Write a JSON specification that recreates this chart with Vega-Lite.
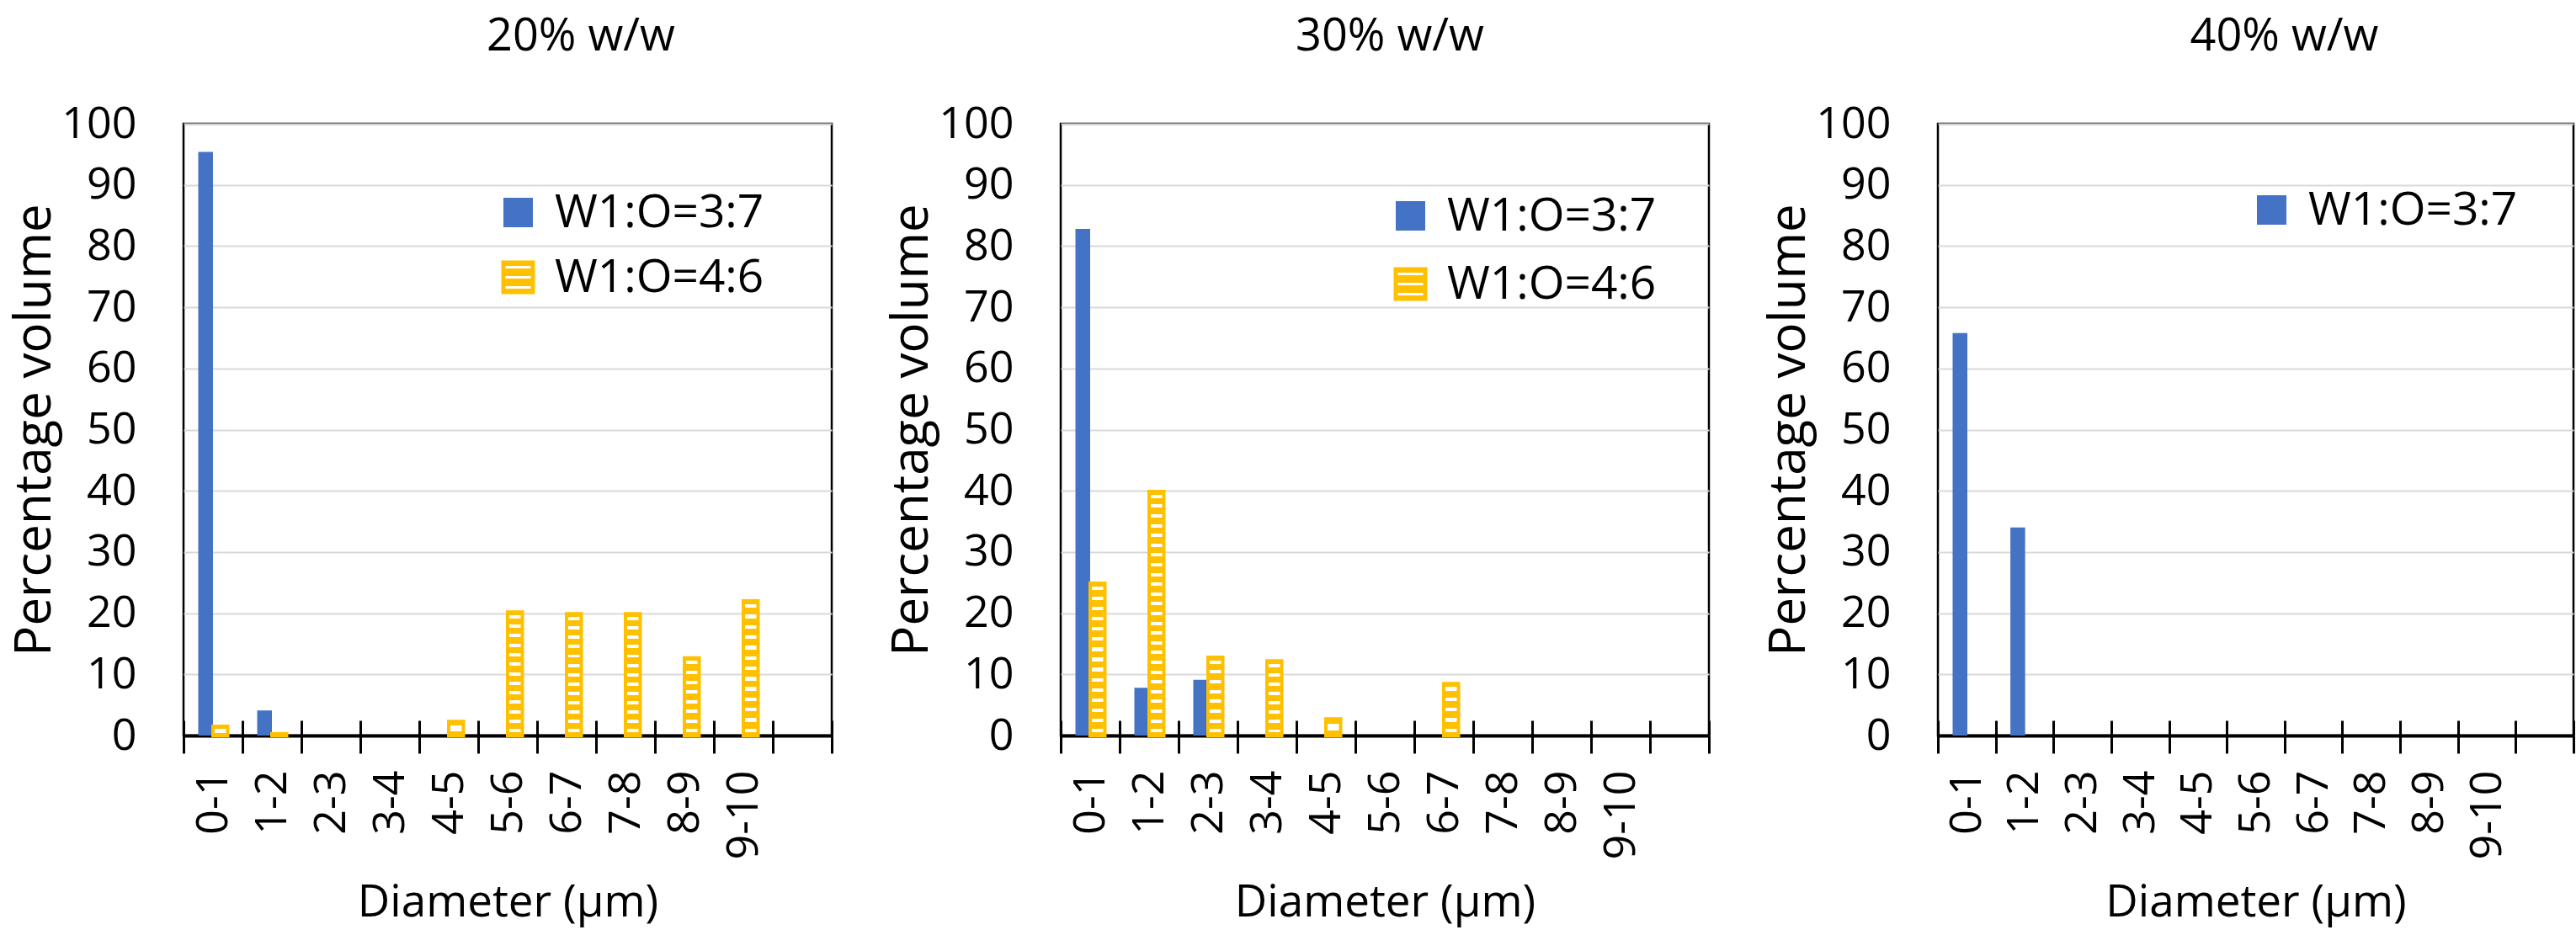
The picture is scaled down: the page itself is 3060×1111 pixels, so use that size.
{
  "$schema": "https://vega.github.io/schema/vega-lite/v6.json",
  "padding": {"left": 10, "top": 15, "right": 0, "bottom": 0},
  "spacing": 61,
  "datasets": {
    "p20": [
      {"series": "W1:O=3:7", "d": "0-1", "value": 95.4},
      {"series": "W1:O=3:7", "d": "1-2", "value": 4.1},
      {"series": "W1:O=4:6", "d": "0-1", "value": 1.5},
      {"series": "W1:O=4:6", "d": "1-2", "value": 0.3},
      {"series": "W1:O=4:6", "d": "4-5", "value": 2.3},
      {"series": "W1:O=4:6", "d": "5-6", "value": 20.2},
      {"series": "W1:O=4:6", "d": "6-7", "value": 19.9},
      {"series": "W1:O=4:6", "d": "7-8", "value": 19.9},
      {"series": "W1:O=4:6", "d": "8-9", "value": 12.7},
      {"series": "W1:O=4:6", "d": "9-10", "value": 22.0}
    ],
    "p30": [
      {"series": "W1:O=3:7", "d": "0-1", "value": 82.8},
      {"series": "W1:O=3:7", "d": "1-2", "value": 7.8},
      {"series": "W1:O=3:7", "d": "2-3", "value": 9.1},
      {"series": "W1:O=4:6", "d": "0-1", "value": 24.9},
      {"series": "W1:O=4:6", "d": "1-2", "value": 39.9},
      {"series": "W1:O=4:6", "d": "2-3", "value": 12.8},
      {"series": "W1:O=4:6", "d": "3-4", "value": 12.2},
      {"series": "W1:O=4:6", "d": "4-5", "value": 2.7},
      {"series": "W1:O=4:6", "d": "6-7", "value": 8.5}
    ],
    "p40": [
      {"series": "W1:O=3:7", "d": "0-1", "value": 65.8},
      {"series": "W1:O=3:7", "d": "1-2", "value": 34.0}
    ]
  },
  "resolve": {"scale": {"fill": "independent", "stroke": "independent"}, "legend": {"fill": "independent", "stroke": "independent"}},
  "hconcat": [
    {
      "width": 770, "height": 727,
      "title": {"text": "20% w/w", "dx": 87},
      "data": {"name": "p20"},
      "resolve": {"axis": {"x": "independent"}},
      "layer": [
        {
          "mark": {"type": "bar", "strokeWidth": 4},
          "encoding": {
            "x": {"field": "d", "type": "nominal", "title": "Diameter (µm)", "axis": {"orient": "bottom"},
              "scale": {"domain": ["0-1","1-2","2-3","3-4","4-5","5-6","6-7","7-8","8-9","9-10"," "], "paddingInner": 0, "paddingOuter": 0}},
            "xOffset": {"field": "series", "type": "nominal", "scale": {"domain": ["W1:O=3:7","W1:O=4:6"], "paddingInner": 0, "paddingOuter": 1}},
            "y": {"field": "value", "type": "quantitative", "title": "Percentage volume", "scale": {"domain": [0, 100], "nice": false}},
            "stroke": {"field": "series", "type": "nominal",
              "scale": {"domain": ["W1:O=4:6","W1:O=3:7"], "range": ["#FFC000","transparent"]},
              "legend": {"title": null, "values": ["W1:O=4:6"], "legendX": 370, "legendY": 155, "symbolType": "M-1,-1H1V1H-1Z M-1,-0.33H1 M-1,0.33H1", "symbolStrokeWidth": 5}},
            "fill": {
              "field": "series", "type": "nominal",
              "scale": {"domain": ["W1:O=3:7","W1:O=4:6"], "range": ["#4472C4","#FFC000"]},
              "legend": {"title": null, "values": ["W1:O=3:7"], "legendX": 370, "legendY": 78, "symbolStrokeWidth": 0},
              "condition": [
                {"test": "datum.value < 0", "value": {"gradient": "linear", "x1": 0, "y1": 0, "x2": 0, "y2": 1, "stops": [
                  {"offset": 0, "color": "#FFC000"},
                  {"offset": 0.12, "color": "#FFC000"},{"offset": 0.12, "color": "#FFFFFF"},{"offset": 0.21, "color": "#FFFFFF"},{"offset": 0.21, "color": "#FFC000"},
                  {"offset": 0.45, "color": "#FFC000"},{"offset": 0.45, "color": "#FFFFFF"},{"offset": 0.54, "color": "#FFFFFF"},{"offset": 0.54, "color": "#FFC000"},
                  {"offset": 0.79, "color": "#FFC000"},{"offset": 0.79, "color": "#FFFFFF"},{"offset": 0.88, "color": "#FFFFFF"},{"offset": 0.88, "color": "#FFC000"},
                  {"offset": 1, "color": "#FFC000"}]}},
                {"test": "datum.series === 'W1:O=4:6' && datum.value > 30", "value": {"gradient": "linear", "x1": 0, "y1": 0, "x2": 0, "y2": 1, "stops": [
                  {"offset": 0, "color": "#FFC000"},
                  {"offset": 0.013, "color": "#FFC000"},{"offset": 0.013, "color": "#FFFFFF"},{"offset": 0.027, "color": "#FFFFFF"},{"offset": 0.027, "color": "#FFC000"},
                  {"offset": 0.053, "color": "#FFC000"},{"offset": 0.053, "color": "#FFFFFF"},{"offset": 0.067, "color": "#FFFFFF"},{"offset": 0.067, "color": "#FFC000"},
                  {"offset": 0.093, "color": "#FFC000"},{"offset": 0.093, "color": "#FFFFFF"},{"offset": 0.107, "color": "#FFFFFF"},{"offset": 0.107, "color": "#FFC000"},
                  {"offset": 0.133, "color": "#FFC000"},{"offset": 0.133, "color": "#FFFFFF"},{"offset": 0.147, "color": "#FFFFFF"},{"offset": 0.147, "color": "#FFC000"},
                  {"offset": 0.173, "color": "#FFC000"},{"offset": 0.173, "color": "#FFFFFF"},{"offset": 0.187, "color": "#FFFFFF"},{"offset": 0.187, "color": "#FFC000"},
                  {"offset": 0.213, "color": "#FFC000"},{"offset": 0.213, "color": "#FFFFFF"},{"offset": 0.227, "color": "#FFFFFF"},{"offset": 0.227, "color": "#FFC000"},
                  {"offset": 0.253, "color": "#FFC000"},{"offset": 0.253, "color": "#FFFFFF"},{"offset": 0.267, "color": "#FFFFFF"},{"offset": 0.267, "color": "#FFC000"},
                  {"offset": 0.293, "color": "#FFC000"},{"offset": 0.293, "color": "#FFFFFF"},{"offset": 0.307, "color": "#FFFFFF"},{"offset": 0.307, "color": "#FFC000"},
                  {"offset": 0.333, "color": "#FFC000"},{"offset": 0.333, "color": "#FFFFFF"},{"offset": 0.347, "color": "#FFFFFF"},{"offset": 0.347, "color": "#FFC000"},
                  {"offset": 0.373, "color": "#FFC000"},{"offset": 0.373, "color": "#FFFFFF"},{"offset": 0.387, "color": "#FFFFFF"},{"offset": 0.387, "color": "#FFC000"},
                  {"offset": 0.413, "color": "#FFC000"},{"offset": 0.413, "color": "#FFFFFF"},{"offset": 0.427, "color": "#FFFFFF"},{"offset": 0.427, "color": "#FFC000"},
                  {"offset": 0.453, "color": "#FFC000"},{"offset": 0.453, "color": "#FFFFFF"},{"offset": 0.467, "color": "#FFFFFF"},{"offset": 0.467, "color": "#FFC000"},
                  {"offset": 0.493, "color": "#FFC000"},{"offset": 0.493, "color": "#FFFFFF"},{"offset": 0.507, "color": "#FFFFFF"},{"offset": 0.507, "color": "#FFC000"},
                  {"offset": 0.533, "color": "#FFC000"},{"offset": 0.533, "color": "#FFFFFF"},{"offset": 0.547, "color": "#FFFFFF"},{"offset": 0.547, "color": "#FFC000"},
                  {"offset": 0.573, "color": "#FFC000"},{"offset": 0.573, "color": "#FFFFFF"},{"offset": 0.587, "color": "#FFFFFF"},{"offset": 0.587, "color": "#FFC000"},
                  {"offset": 0.613, "color": "#FFC000"},{"offset": 0.613, "color": "#FFFFFF"},{"offset": 0.627, "color": "#FFFFFF"},{"offset": 0.627, "color": "#FFC000"},
                  {"offset": 0.653, "color": "#FFC000"},{"offset": 0.653, "color": "#FFFFFF"},{"offset": 0.667, "color": "#FFFFFF"},{"offset": 0.667, "color": "#FFC000"},
                  {"offset": 0.693, "color": "#FFC000"},{"offset": 0.693, "color": "#FFFFFF"},{"offset": 0.707, "color": "#FFFFFF"},{"offset": 0.707, "color": "#FFC000"},
                  {"offset": 0.733, "color": "#FFC000"},{"offset": 0.733, "color": "#FFFFFF"},{"offset": 0.747, "color": "#FFFFFF"},{"offset": 0.747, "color": "#FFC000"},
                  {"offset": 0.773, "color": "#FFC000"},{"offset": 0.773, "color": "#FFFFFF"},{"offset": 0.787, "color": "#FFFFFF"},{"offset": 0.787, "color": "#FFC000"},
                  {"offset": 0.813, "color": "#FFC000"},{"offset": 0.813, "color": "#FFFFFF"},{"offset": 0.827, "color": "#FFFFFF"},{"offset": 0.827, "color": "#FFC000"},
                  {"offset": 0.853, "color": "#FFC000"},{"offset": 0.853, "color": "#FFFFFF"},{"offset": 0.867, "color": "#FFFFFF"},{"offset": 0.867, "color": "#FFC000"},
                  {"offset": 0.893, "color": "#FFC000"},{"offset": 0.893, "color": "#FFFFFF"},{"offset": 0.907, "color": "#FFFFFF"},{"offset": 0.907, "color": "#FFC000"},
                  {"offset": 0.933, "color": "#FFC000"},{"offset": 0.933, "color": "#FFFFFF"},{"offset": 0.947, "color": "#FFFFFF"},{"offset": 0.947, "color": "#FFC000"},
                  {"offset": 0.973, "color": "#FFC000"},{"offset": 0.973, "color": "#FFFFFF"},{"offset": 0.987, "color": "#FFFFFF"},{"offset": 0.987, "color": "#FFC000"},
                  {"offset": 1, "color": "#FFC000"}]}},
                {"test": "datum.series === 'W1:O=4:6' && datum.value > 23.5", "value": {"gradient": "linear", "x1": 0, "y1": 0, "x2": 0, "y2": 1, "stops": [
                  {"offset": 0, "color": "#FFC000"},
                  {"offset": 0.022, "color": "#FFC000"},{"offset": 0.022, "color": "#FFFFFF"},{"offset": 0.045, "color": "#FFFFFF"},{"offset": 0.045, "color": "#FFC000"},
                  {"offset": 0.088, "color": "#FFC000"},{"offset": 0.088, "color": "#FFFFFF"},{"offset": 0.112, "color": "#FFFFFF"},{"offset": 0.112, "color": "#FFC000"},
                  {"offset": 0.155, "color": "#FFC000"},{"offset": 0.155, "color": "#FFFFFF"},{"offset": 0.178, "color": "#FFFFFF"},{"offset": 0.178, "color": "#FFC000"},
                  {"offset": 0.222, "color": "#FFC000"},{"offset": 0.222, "color": "#FFFFFF"},{"offset": 0.245, "color": "#FFFFFF"},{"offset": 0.245, "color": "#FFC000"},
                  {"offset": 0.288, "color": "#FFC000"},{"offset": 0.288, "color": "#FFFFFF"},{"offset": 0.312, "color": "#FFFFFF"},{"offset": 0.312, "color": "#FFC000"},
                  {"offset": 0.355, "color": "#FFC000"},{"offset": 0.355, "color": "#FFFFFF"},{"offset": 0.378, "color": "#FFFFFF"},{"offset": 0.378, "color": "#FFC000"},
                  {"offset": 0.422, "color": "#FFC000"},{"offset": 0.422, "color": "#FFFFFF"},{"offset": 0.445, "color": "#FFFFFF"},{"offset": 0.445, "color": "#FFC000"},
                  {"offset": 0.488, "color": "#FFC000"},{"offset": 0.488, "color": "#FFFFFF"},{"offset": 0.512, "color": "#FFFFFF"},{"offset": 0.512, "color": "#FFC000"},
                  {"offset": 0.555, "color": "#FFC000"},{"offset": 0.555, "color": "#FFFFFF"},{"offset": 0.578, "color": "#FFFFFF"},{"offset": 0.578, "color": "#FFC000"},
                  {"offset": 0.622, "color": "#FFC000"},{"offset": 0.622, "color": "#FFFFFF"},{"offset": 0.645, "color": "#FFFFFF"},{"offset": 0.645, "color": "#FFC000"},
                  {"offset": 0.688, "color": "#FFC000"},{"offset": 0.688, "color": "#FFFFFF"},{"offset": 0.712, "color": "#FFFFFF"},{"offset": 0.712, "color": "#FFC000"},
                  {"offset": 0.755, "color": "#FFC000"},{"offset": 0.755, "color": "#FFFFFF"},{"offset": 0.778, "color": "#FFFFFF"},{"offset": 0.778, "color": "#FFC000"},
                  {"offset": 0.822, "color": "#FFC000"},{"offset": 0.822, "color": "#FFFFFF"},{"offset": 0.845, "color": "#FFFFFF"},{"offset": 0.845, "color": "#FFC000"},
                  {"offset": 0.888, "color": "#FFC000"},{"offset": 0.888, "color": "#FFFFFF"},{"offset": 0.912, "color": "#FFFFFF"},{"offset": 0.912, "color": "#FFC000"},
                  {"offset": 0.955, "color": "#FFC000"},{"offset": 0.955, "color": "#FFFFFF"},{"offset": 0.978, "color": "#FFFFFF"},{"offset": 0.978, "color": "#FFC000"},
                  {"offset": 1, "color": "#FFC000"}]}},
                {"test": "datum.series === 'W1:O=4:6' && datum.value > 17", "value": {"gradient": "linear", "x1": 0, "y1": 0, "x2": 0, "y2": 1, "stops": [
                  {"offset": 0, "color": "#FFC000"},
                  {"offset": 0.025, "color": "#FFC000"},{"offset": 0.025, "color": "#FFFFFF"},{"offset": 0.052, "color": "#FFFFFF"},{"offset": 0.052, "color": "#FFC000"},
                  {"offset": 0.102, "color": "#FFC000"},{"offset": 0.102, "color": "#FFFFFF"},{"offset": 0.129, "color": "#FFFFFF"},{"offset": 0.129, "color": "#FFC000"},
                  {"offset": 0.179, "color": "#FFC000"},{"offset": 0.179, "color": "#FFFFFF"},{"offset": 0.206, "color": "#FFFFFF"},{"offset": 0.206, "color": "#FFC000"},
                  {"offset": 0.256, "color": "#FFC000"},{"offset": 0.256, "color": "#FFFFFF"},{"offset": 0.283, "color": "#FFFFFF"},{"offset": 0.283, "color": "#FFC000"},
                  {"offset": 0.333, "color": "#FFC000"},{"offset": 0.333, "color": "#FFFFFF"},{"offset": 0.360, "color": "#FFFFFF"},{"offset": 0.360, "color": "#FFC000"},
                  {"offset": 0.410, "color": "#FFC000"},{"offset": 0.410, "color": "#FFFFFF"},{"offset": 0.437, "color": "#FFFFFF"},{"offset": 0.437, "color": "#FFC000"},
                  {"offset": 0.487, "color": "#FFC000"},{"offset": 0.487, "color": "#FFFFFF"},{"offset": 0.514, "color": "#FFFFFF"},{"offset": 0.514, "color": "#FFC000"},
                  {"offset": 0.564, "color": "#FFC000"},{"offset": 0.564, "color": "#FFFFFF"},{"offset": 0.591, "color": "#FFFFFF"},{"offset": 0.591, "color": "#FFC000"},
                  {"offset": 0.640, "color": "#FFC000"},{"offset": 0.640, "color": "#FFFFFF"},{"offset": 0.667, "color": "#FFFFFF"},{"offset": 0.667, "color": "#FFC000"},
                  {"offset": 0.717, "color": "#FFC000"},{"offset": 0.717, "color": "#FFFFFF"},{"offset": 0.744, "color": "#FFFFFF"},{"offset": 0.744, "color": "#FFC000"},
                  {"offset": 0.794, "color": "#FFC000"},{"offset": 0.794, "color": "#FFFFFF"},{"offset": 0.821, "color": "#FFFFFF"},{"offset": 0.821, "color": "#FFC000"},
                  {"offset": 0.871, "color": "#FFC000"},{"offset": 0.871, "color": "#FFFFFF"},{"offset": 0.898, "color": "#FFFFFF"},{"offset": 0.898, "color": "#FFC000"},
                  {"offset": 0.948, "color": "#FFC000"},{"offset": 0.948, "color": "#FFFFFF"},{"offset": 0.975, "color": "#FFFFFF"},{"offset": 0.975, "color": "#FFC000"},
                  {"offset": 1, "color": "#FFC000"}]}},
                {"test": "datum.series === 'W1:O=4:6' && datum.value > 10", "value": {"gradient": "linear", "x1": 0, "y1": 0, "x2": 0, "y2": 1, "stops": [
                  {"offset": 0, "color": "#FFC000"},
                  {"offset": 0.041, "color": "#FFC000"},{"offset": 0.041, "color": "#FFFFFF"},{"offset": 0.084, "color": "#FFFFFF"},{"offset": 0.084, "color": "#FFC000"},
                  {"offset": 0.166, "color": "#FFC000"},{"offset": 0.166, "color": "#FFFFFF"},{"offset": 0.209, "color": "#FFFFFF"},{"offset": 0.209, "color": "#FFC000"},
                  {"offset": 0.291, "color": "#FFC000"},{"offset": 0.291, "color": "#FFFFFF"},{"offset": 0.334, "color": "#FFFFFF"},{"offset": 0.334, "color": "#FFC000"},
                  {"offset": 0.416, "color": "#FFC000"},{"offset": 0.416, "color": "#FFFFFF"},{"offset": 0.459, "color": "#FFFFFF"},{"offset": 0.459, "color": "#FFC000"},
                  {"offset": 0.541, "color": "#FFC000"},{"offset": 0.541, "color": "#FFFFFF"},{"offset": 0.584, "color": "#FFFFFF"},{"offset": 0.584, "color": "#FFC000"},
                  {"offset": 0.666, "color": "#FFC000"},{"offset": 0.666, "color": "#FFFFFF"},{"offset": 0.709, "color": "#FFFFFF"},{"offset": 0.709, "color": "#FFC000"},
                  {"offset": 0.791, "color": "#FFC000"},{"offset": 0.791, "color": "#FFFFFF"},{"offset": 0.834, "color": "#FFFFFF"},{"offset": 0.834, "color": "#FFC000"},
                  {"offset": 0.916, "color": "#FFC000"},{"offset": 0.916, "color": "#FFFFFF"},{"offset": 0.959, "color": "#FFFFFF"},{"offset": 0.959, "color": "#FFC000"},
                  {"offset": 1, "color": "#FFC000"}]}},
                {"test": "datum.series === 'W1:O=4:6' && datum.value > 5", "value": {"gradient": "linear", "x1": 0, "y1": 0, "x2": 0, "y2": 1, "stops": [
                  {"offset": 0, "color": "#FFC000"},
                  {"offset": 0.065, "color": "#FFC000"},{"offset": 0.065, "color": "#FFFFFF"},{"offset": 0.135, "color": "#FFFFFF"},{"offset": 0.135, "color": "#FFC000"},
                  {"offset": 0.265, "color": "#FFC000"},{"offset": 0.265, "color": "#FFFFFF"},{"offset": 0.335, "color": "#FFFFFF"},{"offset": 0.335, "color": "#FFC000"},
                  {"offset": 0.465, "color": "#FFC000"},{"offset": 0.465, "color": "#FFFFFF"},{"offset": 0.535, "color": "#FFFFFF"},{"offset": 0.535, "color": "#FFC000"},
                  {"offset": 0.665, "color": "#FFC000"},{"offset": 0.665, "color": "#FFFFFF"},{"offset": 0.735, "color": "#FFFFFF"},{"offset": 0.735, "color": "#FFC000"},
                  {"offset": 0.865, "color": "#FFC000"},{"offset": 0.865, "color": "#FFFFFF"},{"offset": 0.935, "color": "#FFFFFF"},{"offset": 0.935, "color": "#FFC000"},
                  {"offset": 1, "color": "#FFC000"}]}},
                {"test": "datum.series === 'W1:O=4:6' && datum.value > 1", "value": {"gradient": "linear", "x1": 0, "y1": 0, "x2": 0, "y2": 1, "stops": [
                  {"offset": 0, "color": "#FFC000"},
                  {"offset": 0.3, "color": "#FFC000"},{"offset": 0.3, "color": "#FFFFFF"},{"offset": 0.7, "color": "#FFFFFF"},{"offset": 0.7, "color": "#FFC000"},
                  {"offset": 1, "color": "#FFC000"}]}}
              ]
            }
          }
        },
        {
          "mark": {"type": "rule", "opacity": 0},
          "encoding": {
            "x": {"field": "d", "type": "nominal",
              "scale": {"domain": ["0-1","1-2","2-3","3-4","4-5","5-6","6-7","7-8","8-9","9-10"," "], "paddingInner": 0, "paddingOuter": 0},
              "axis": {"orient": "bottom", "tickSize": -18, "labels": false, "domain": false, "title": null}}
          }
        }
      ]
    },
    {
      "width": 770, "height": 727,
      "title": {"text": "30% w/w", "dx": 6},
      "data": {"name": "p30"},
      "resolve": {"axis": {"x": "independent"}},
      "layer": [
        {
          "mark": {"type": "bar", "strokeWidth": 4},
          "encoding": {
            "x": {"field": "d", "type": "nominal", "title": "Diameter (µm)", "axis": {"orient": "bottom"},
              "scale": {"domain": ["0-1","1-2","2-3","3-4","4-5","5-6","6-7","7-8","8-9","9-10"," "], "paddingInner": 0, "paddingOuter": 0}},
            "xOffset": {"field": "series", "type": "nominal", "scale": {"domain": ["W1:O=3:7","W1:O=4:6"], "paddingInner": 0, "paddingOuter": 1}},
            "y": {"field": "value", "type": "quantitative", "title": "Percentage volume", "scale": {"domain": [0, 100], "nice": false}},
            "stroke": {"field": "series", "type": "nominal",
              "scale": {"domain": ["W1:O=4:6","W1:O=3:7"], "range": ["#FFC000","transparent"]},
              "legend": {"title": null, "values": ["W1:O=4:6"], "legendX": 388, "legendY": 163, "symbolType": "M-1,-1H1V1H-1Z M-1,-0.33H1 M-1,0.33H1", "symbolStrokeWidth": 5}},
            "fill": {
              "field": "series", "type": "nominal",
              "scale": {"domain": ["W1:O=3:7","W1:O=4:6"], "range": ["#4472C4","#FFC000"]},
              "legend": {"title": null, "values": ["W1:O=3:7"], "legendX": 388, "legendY": 82, "symbolStrokeWidth": 0},
              "condition": [
                {"test": "datum.value < 0", "value": {"gradient": "linear", "x1": 0, "y1": 0, "x2": 0, "y2": 1, "stops": [
                  {"offset": 0, "color": "#FFC000"},
                  {"offset": 0.12, "color": "#FFC000"},{"offset": 0.12, "color": "#FFFFFF"},{"offset": 0.21, "color": "#FFFFFF"},{"offset": 0.21, "color": "#FFC000"},
                  {"offset": 0.45, "color": "#FFC000"},{"offset": 0.45, "color": "#FFFFFF"},{"offset": 0.54, "color": "#FFFFFF"},{"offset": 0.54, "color": "#FFC000"},
                  {"offset": 0.79, "color": "#FFC000"},{"offset": 0.79, "color": "#FFFFFF"},{"offset": 0.88, "color": "#FFFFFF"},{"offset": 0.88, "color": "#FFC000"},
                  {"offset": 1, "color": "#FFC000"}]}},
                {"test": "datum.series === 'W1:O=4:6' && datum.value > 30", "value": {"gradient": "linear", "x1": 0, "y1": 0, "x2": 0, "y2": 1, "stops": [
                  {"offset": 0, "color": "#FFC000"},
                  {"offset": 0.013, "color": "#FFC000"},{"offset": 0.013, "color": "#FFFFFF"},{"offset": 0.027, "color": "#FFFFFF"},{"offset": 0.027, "color": "#FFC000"},
                  {"offset": 0.053, "color": "#FFC000"},{"offset": 0.053, "color": "#FFFFFF"},{"offset": 0.067, "color": "#FFFFFF"},{"offset": 0.067, "color": "#FFC000"},
                  {"offset": 0.093, "color": "#FFC000"},{"offset": 0.093, "color": "#FFFFFF"},{"offset": 0.107, "color": "#FFFFFF"},{"offset": 0.107, "color": "#FFC000"},
                  {"offset": 0.133, "color": "#FFC000"},{"offset": 0.133, "color": "#FFFFFF"},{"offset": 0.147, "color": "#FFFFFF"},{"offset": 0.147, "color": "#FFC000"},
                  {"offset": 0.173, "color": "#FFC000"},{"offset": 0.173, "color": "#FFFFFF"},{"offset": 0.187, "color": "#FFFFFF"},{"offset": 0.187, "color": "#FFC000"},
                  {"offset": 0.213, "color": "#FFC000"},{"offset": 0.213, "color": "#FFFFFF"},{"offset": 0.227, "color": "#FFFFFF"},{"offset": 0.227, "color": "#FFC000"},
                  {"offset": 0.253, "color": "#FFC000"},{"offset": 0.253, "color": "#FFFFFF"},{"offset": 0.267, "color": "#FFFFFF"},{"offset": 0.267, "color": "#FFC000"},
                  {"offset": 0.293, "color": "#FFC000"},{"offset": 0.293, "color": "#FFFFFF"},{"offset": 0.307, "color": "#FFFFFF"},{"offset": 0.307, "color": "#FFC000"},
                  {"offset": 0.333, "color": "#FFC000"},{"offset": 0.333, "color": "#FFFFFF"},{"offset": 0.347, "color": "#FFFFFF"},{"offset": 0.347, "color": "#FFC000"},
                  {"offset": 0.373, "color": "#FFC000"},{"offset": 0.373, "color": "#FFFFFF"},{"offset": 0.387, "color": "#FFFFFF"},{"offset": 0.387, "color": "#FFC000"},
                  {"offset": 0.413, "color": "#FFC000"},{"offset": 0.413, "color": "#FFFFFF"},{"offset": 0.427, "color": "#FFFFFF"},{"offset": 0.427, "color": "#FFC000"},
                  {"offset": 0.453, "color": "#FFC000"},{"offset": 0.453, "color": "#FFFFFF"},{"offset": 0.467, "color": "#FFFFFF"},{"offset": 0.467, "color": "#FFC000"},
                  {"offset": 0.493, "color": "#FFC000"},{"offset": 0.493, "color": "#FFFFFF"},{"offset": 0.507, "color": "#FFFFFF"},{"offset": 0.507, "color": "#FFC000"},
                  {"offset": 0.533, "color": "#FFC000"},{"offset": 0.533, "color": "#FFFFFF"},{"offset": 0.547, "color": "#FFFFFF"},{"offset": 0.547, "color": "#FFC000"},
                  {"offset": 0.573, "color": "#FFC000"},{"offset": 0.573, "color": "#FFFFFF"},{"offset": 0.587, "color": "#FFFFFF"},{"offset": 0.587, "color": "#FFC000"},
                  {"offset": 0.613, "color": "#FFC000"},{"offset": 0.613, "color": "#FFFFFF"},{"offset": 0.627, "color": "#FFFFFF"},{"offset": 0.627, "color": "#FFC000"},
                  {"offset": 0.653, "color": "#FFC000"},{"offset": 0.653, "color": "#FFFFFF"},{"offset": 0.667, "color": "#FFFFFF"},{"offset": 0.667, "color": "#FFC000"},
                  {"offset": 0.693, "color": "#FFC000"},{"offset": 0.693, "color": "#FFFFFF"},{"offset": 0.707, "color": "#FFFFFF"},{"offset": 0.707, "color": "#FFC000"},
                  {"offset": 0.733, "color": "#FFC000"},{"offset": 0.733, "color": "#FFFFFF"},{"offset": 0.747, "color": "#FFFFFF"},{"offset": 0.747, "color": "#FFC000"},
                  {"offset": 0.773, "color": "#FFC000"},{"offset": 0.773, "color": "#FFFFFF"},{"offset": 0.787, "color": "#FFFFFF"},{"offset": 0.787, "color": "#FFC000"},
                  {"offset": 0.813, "color": "#FFC000"},{"offset": 0.813, "color": "#FFFFFF"},{"offset": 0.827, "color": "#FFFFFF"},{"offset": 0.827, "color": "#FFC000"},
                  {"offset": 0.853, "color": "#FFC000"},{"offset": 0.853, "color": "#FFFFFF"},{"offset": 0.867, "color": "#FFFFFF"},{"offset": 0.867, "color": "#FFC000"},
                  {"offset": 0.893, "color": "#FFC000"},{"offset": 0.893, "color": "#FFFFFF"},{"offset": 0.907, "color": "#FFFFFF"},{"offset": 0.907, "color": "#FFC000"},
                  {"offset": 0.933, "color": "#FFC000"},{"offset": 0.933, "color": "#FFFFFF"},{"offset": 0.947, "color": "#FFFFFF"},{"offset": 0.947, "color": "#FFC000"},
                  {"offset": 0.973, "color": "#FFC000"},{"offset": 0.973, "color": "#FFFFFF"},{"offset": 0.987, "color": "#FFFFFF"},{"offset": 0.987, "color": "#FFC000"},
                  {"offset": 1, "color": "#FFC000"}]}},
                {"test": "datum.series === 'W1:O=4:6' && datum.value > 23.5", "value": {"gradient": "linear", "x1": 0, "y1": 0, "x2": 0, "y2": 1, "stops": [
                  {"offset": 0, "color": "#FFC000"},
                  {"offset": 0.022, "color": "#FFC000"},{"offset": 0.022, "color": "#FFFFFF"},{"offset": 0.045, "color": "#FFFFFF"},{"offset": 0.045, "color": "#FFC000"},
                  {"offset": 0.088, "color": "#FFC000"},{"offset": 0.088, "color": "#FFFFFF"},{"offset": 0.112, "color": "#FFFFFF"},{"offset": 0.112, "color": "#FFC000"},
                  {"offset": 0.155, "color": "#FFC000"},{"offset": 0.155, "color": "#FFFFFF"},{"offset": 0.178, "color": "#FFFFFF"},{"offset": 0.178, "color": "#FFC000"},
                  {"offset": 0.222, "color": "#FFC000"},{"offset": 0.222, "color": "#FFFFFF"},{"offset": 0.245, "color": "#FFFFFF"},{"offset": 0.245, "color": "#FFC000"},
                  {"offset": 0.288, "color": "#FFC000"},{"offset": 0.288, "color": "#FFFFFF"},{"offset": 0.312, "color": "#FFFFFF"},{"offset": 0.312, "color": "#FFC000"},
                  {"offset": 0.355, "color": "#FFC000"},{"offset": 0.355, "color": "#FFFFFF"},{"offset": 0.378, "color": "#FFFFFF"},{"offset": 0.378, "color": "#FFC000"},
                  {"offset": 0.422, "color": "#FFC000"},{"offset": 0.422, "color": "#FFFFFF"},{"offset": 0.445, "color": "#FFFFFF"},{"offset": 0.445, "color": "#FFC000"},
                  {"offset": 0.488, "color": "#FFC000"},{"offset": 0.488, "color": "#FFFFFF"},{"offset": 0.512, "color": "#FFFFFF"},{"offset": 0.512, "color": "#FFC000"},
                  {"offset": 0.555, "color": "#FFC000"},{"offset": 0.555, "color": "#FFFFFF"},{"offset": 0.578, "color": "#FFFFFF"},{"offset": 0.578, "color": "#FFC000"},
                  {"offset": 0.622, "color": "#FFC000"},{"offset": 0.622, "color": "#FFFFFF"},{"offset": 0.645, "color": "#FFFFFF"},{"offset": 0.645, "color": "#FFC000"},
                  {"offset": 0.688, "color": "#FFC000"},{"offset": 0.688, "color": "#FFFFFF"},{"offset": 0.712, "color": "#FFFFFF"},{"offset": 0.712, "color": "#FFC000"},
                  {"offset": 0.755, "color": "#FFC000"},{"offset": 0.755, "color": "#FFFFFF"},{"offset": 0.778, "color": "#FFFFFF"},{"offset": 0.778, "color": "#FFC000"},
                  {"offset": 0.822, "color": "#FFC000"},{"offset": 0.822, "color": "#FFFFFF"},{"offset": 0.845, "color": "#FFFFFF"},{"offset": 0.845, "color": "#FFC000"},
                  {"offset": 0.888, "color": "#FFC000"},{"offset": 0.888, "color": "#FFFFFF"},{"offset": 0.912, "color": "#FFFFFF"},{"offset": 0.912, "color": "#FFC000"},
                  {"offset": 0.955, "color": "#FFC000"},{"offset": 0.955, "color": "#FFFFFF"},{"offset": 0.978, "color": "#FFFFFF"},{"offset": 0.978, "color": "#FFC000"},
                  {"offset": 1, "color": "#FFC000"}]}},
                {"test": "datum.series === 'W1:O=4:6' && datum.value > 17", "value": {"gradient": "linear", "x1": 0, "y1": 0, "x2": 0, "y2": 1, "stops": [
                  {"offset": 0, "color": "#FFC000"},
                  {"offset": 0.025, "color": "#FFC000"},{"offset": 0.025, "color": "#FFFFFF"},{"offset": 0.052, "color": "#FFFFFF"},{"offset": 0.052, "color": "#FFC000"},
                  {"offset": 0.102, "color": "#FFC000"},{"offset": 0.102, "color": "#FFFFFF"},{"offset": 0.129, "color": "#FFFFFF"},{"offset": 0.129, "color": "#FFC000"},
                  {"offset": 0.179, "color": "#FFC000"},{"offset": 0.179, "color": "#FFFFFF"},{"offset": 0.206, "color": "#FFFFFF"},{"offset": 0.206, "color": "#FFC000"},
                  {"offset": 0.256, "color": "#FFC000"},{"offset": 0.256, "color": "#FFFFFF"},{"offset": 0.283, "color": "#FFFFFF"},{"offset": 0.283, "color": "#FFC000"},
                  {"offset": 0.333, "color": "#FFC000"},{"offset": 0.333, "color": "#FFFFFF"},{"offset": 0.360, "color": "#FFFFFF"},{"offset": 0.360, "color": "#FFC000"},
                  {"offset": 0.410, "color": "#FFC000"},{"offset": 0.410, "color": "#FFFFFF"},{"offset": 0.437, "color": "#FFFFFF"},{"offset": 0.437, "color": "#FFC000"},
                  {"offset": 0.487, "color": "#FFC000"},{"offset": 0.487, "color": "#FFFFFF"},{"offset": 0.514, "color": "#FFFFFF"},{"offset": 0.514, "color": "#FFC000"},
                  {"offset": 0.564, "color": "#FFC000"},{"offset": 0.564, "color": "#FFFFFF"},{"offset": 0.591, "color": "#FFFFFF"},{"offset": 0.591, "color": "#FFC000"},
                  {"offset": 0.640, "color": "#FFC000"},{"offset": 0.640, "color": "#FFFFFF"},{"offset": 0.667, "color": "#FFFFFF"},{"offset": 0.667, "color": "#FFC000"},
                  {"offset": 0.717, "color": "#FFC000"},{"offset": 0.717, "color": "#FFFFFF"},{"offset": 0.744, "color": "#FFFFFF"},{"offset": 0.744, "color": "#FFC000"},
                  {"offset": 0.794, "color": "#FFC000"},{"offset": 0.794, "color": "#FFFFFF"},{"offset": 0.821, "color": "#FFFFFF"},{"offset": 0.821, "color": "#FFC000"},
                  {"offset": 0.871, "color": "#FFC000"},{"offset": 0.871, "color": "#FFFFFF"},{"offset": 0.898, "color": "#FFFFFF"},{"offset": 0.898, "color": "#FFC000"},
                  {"offset": 0.948, "color": "#FFC000"},{"offset": 0.948, "color": "#FFFFFF"},{"offset": 0.975, "color": "#FFFFFF"},{"offset": 0.975, "color": "#FFC000"},
                  {"offset": 1, "color": "#FFC000"}]}},
                {"test": "datum.series === 'W1:O=4:6' && datum.value > 10", "value": {"gradient": "linear", "x1": 0, "y1": 0, "x2": 0, "y2": 1, "stops": [
                  {"offset": 0, "color": "#FFC000"},
                  {"offset": 0.041, "color": "#FFC000"},{"offset": 0.041, "color": "#FFFFFF"},{"offset": 0.084, "color": "#FFFFFF"},{"offset": 0.084, "color": "#FFC000"},
                  {"offset": 0.166, "color": "#FFC000"},{"offset": 0.166, "color": "#FFFFFF"},{"offset": 0.209, "color": "#FFFFFF"},{"offset": 0.209, "color": "#FFC000"},
                  {"offset": 0.291, "color": "#FFC000"},{"offset": 0.291, "color": "#FFFFFF"},{"offset": 0.334, "color": "#FFFFFF"},{"offset": 0.334, "color": "#FFC000"},
                  {"offset": 0.416, "color": "#FFC000"},{"offset": 0.416, "color": "#FFFFFF"},{"offset": 0.459, "color": "#FFFFFF"},{"offset": 0.459, "color": "#FFC000"},
                  {"offset": 0.541, "color": "#FFC000"},{"offset": 0.541, "color": "#FFFFFF"},{"offset": 0.584, "color": "#FFFFFF"},{"offset": 0.584, "color": "#FFC000"},
                  {"offset": 0.666, "color": "#FFC000"},{"offset": 0.666, "color": "#FFFFFF"},{"offset": 0.709, "color": "#FFFFFF"},{"offset": 0.709, "color": "#FFC000"},
                  {"offset": 0.791, "color": "#FFC000"},{"offset": 0.791, "color": "#FFFFFF"},{"offset": 0.834, "color": "#FFFFFF"},{"offset": 0.834, "color": "#FFC000"},
                  {"offset": 0.916, "color": "#FFC000"},{"offset": 0.916, "color": "#FFFFFF"},{"offset": 0.959, "color": "#FFFFFF"},{"offset": 0.959, "color": "#FFC000"},
                  {"offset": 1, "color": "#FFC000"}]}},
                {"test": "datum.series === 'W1:O=4:6' && datum.value > 5", "value": {"gradient": "linear", "x1": 0, "y1": 0, "x2": 0, "y2": 1, "stops": [
                  {"offset": 0, "color": "#FFC000"},
                  {"offset": 0.065, "color": "#FFC000"},{"offset": 0.065, "color": "#FFFFFF"},{"offset": 0.135, "color": "#FFFFFF"},{"offset": 0.135, "color": "#FFC000"},
                  {"offset": 0.265, "color": "#FFC000"},{"offset": 0.265, "color": "#FFFFFF"},{"offset": 0.335, "color": "#FFFFFF"},{"offset": 0.335, "color": "#FFC000"},
                  {"offset": 0.465, "color": "#FFC000"},{"offset": 0.465, "color": "#FFFFFF"},{"offset": 0.535, "color": "#FFFFFF"},{"offset": 0.535, "color": "#FFC000"},
                  {"offset": 0.665, "color": "#FFC000"},{"offset": 0.665, "color": "#FFFFFF"},{"offset": 0.735, "color": "#FFFFFF"},{"offset": 0.735, "color": "#FFC000"},
                  {"offset": 0.865, "color": "#FFC000"},{"offset": 0.865, "color": "#FFFFFF"},{"offset": 0.935, "color": "#FFFFFF"},{"offset": 0.935, "color": "#FFC000"},
                  {"offset": 1, "color": "#FFC000"}]}},
                {"test": "datum.series === 'W1:O=4:6' && datum.value > 1", "value": {"gradient": "linear", "x1": 0, "y1": 0, "x2": 0, "y2": 1, "stops": [
                  {"offset": 0, "color": "#FFC000"},
                  {"offset": 0.3, "color": "#FFC000"},{"offset": 0.3, "color": "#FFFFFF"},{"offset": 0.7, "color": "#FFFFFF"},{"offset": 0.7, "color": "#FFC000"},
                  {"offset": 1, "color": "#FFC000"}]}}
              ]
            }
          }
        },
        {
          "mark": {"type": "rule", "opacity": 0},
          "encoding": {
            "x": {"field": "d", "type": "nominal",
              "scale": {"domain": ["0-1","1-2","2-3","3-4","4-5","5-6","6-7","7-8","8-9","9-10"," "], "paddingInner": 0, "paddingOuter": 0},
              "axis": {"orient": "bottom", "tickSize": -18, "labels": false, "domain": false, "title": null}}
          }
        }
      ]
    },
    {
      "width": 755, "height": 727,
      "title": {"text": "40% w/w", "dx": 34},
      "data": {"name": "p40"},
      "resolve": {"axis": {"x": "independent"}},
      "layer": [
        {
          "mark": {"type": "bar"},
          "encoding": {
            "x": {"field": "d", "type": "nominal", "title": "Diameter (µm)", "axis": {"orient": "bottom"},
              "scale": {"domain": ["0-1","1-2","2-3","3-4","4-5","5-6","6-7","7-8","8-9","9-10"," "], "paddingInner": 0, "paddingOuter": 0}},
            "xOffset": {"field": "series", "type": "nominal", "scale": {"domain": ["W1:O=3:7","W1:O=4:6"], "paddingInner": 0, "paddingOuter": 1}},
            "y": {"field": "value", "type": "quantitative", "title": "Percentage volume", "scale": {"domain": [0, 100], "nice": false}},
            "fill": {
              "field": "series", "type": "nominal",
              "scale": {"domain": ["W1:O=3:7"], "range": ["#4472C4"]},
              "legend": {"title": null, "legendX": 369, "legendY": 75, "symbolStrokeWidth": 0}
            }
          }
        },
        {
          "mark": {"type": "rule", "opacity": 0},
          "encoding": {
            "x": {"field": "d", "type": "nominal",
              "scale": {"domain": ["0-1","1-2","2-3","3-4","4-5","5-6","6-7","7-8","8-9","9-10"," "], "paddingInner": 0, "paddingOuter": 0},
              "axis": {"orient": "bottom", "tickSize": -18, "labels": false, "domain": false, "title": null}}
          }
        }
      ]
    }
  ],
  "config": {
    "font": "Open Sans",
    "background": "#ffffff",
    "view": {"stroke": "#000000", "strokeWidth": 2.5},
    "title": {"fontSize": 54, "fontWeight": "normal", "color": "#000000", "anchor": "middle", "offset": 50},
    "axis": {"labelColor": "#000000", "titleColor": "#000000", "titleFontWeight": "normal", "labelFont": "Open Sans", "titleFont": "Open Sans"},
    "axisX": {"tickBand": "extent", "labelAngle": 270, "labelFontSize": 52, "labelPadding": 20, "tickSize": 21, "tickWidth": 3, "tickColor": "#000000", "domainColor": "#000000", "domainWidth": 4, "titleFontSize": 53, "titlePadding": 26, "grid": false},
    "axisY": {"domain": false, "ticks": false, "grid": true, "gridColor": "#d9d9d9", "gridWidth": 2, "tickCount": 10, "labelFontSize": 52, "labelPadding": 56, "titleFontSize": 60, "titlePadding": 0},
    "legend": {"orient": "none", "padding": 0, "labelFontSize": 55, "labelOffset": 16, "labelLimit": 600, "labelColor": "#000000", "labelFont": "Open Sans", "symbolType": "square", "symbolSize": 1225}
  }
}
